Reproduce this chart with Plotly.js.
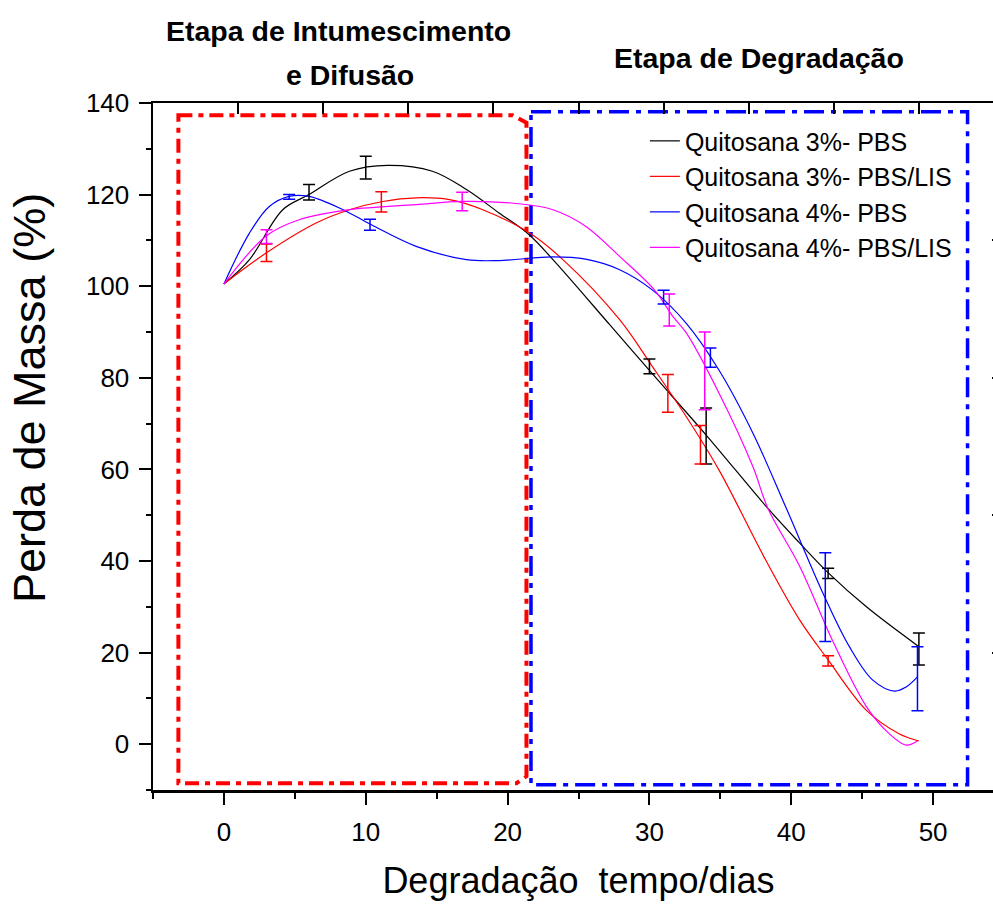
<!DOCTYPE html>
<html>
<head>
<meta charset="utf-8">
<script src="https://cdn.plot.ly/plotly-3.0.1.min.js"></script>
<style>
html, body { margin: 0; padding: 0; overflow: hidden; background: #fff; }
#chart { width: 1010px; height: 904px; }
</style>
</head>
<body>
<div id="chart"></div>
<script>
// ---- series names & colours ----
const seriesNames = ['Quitosana 3%- PBS', 'Quitosana 3%- PBS/LIS', 'Quitosana 4%- PBS', 'Quitosana 4%- PBS/LIS'];
const seriesColors = ['#000000', '#ff0000', '#0000ff', '#ff00ff'];

// ---- fitted curves ----
const curveX_3PBS = [0, 1.8, 4.15, 6, 8.85, 11.55, 14.7, 17.1, 19.4, 21.5, 23.2, 27.2, 30, 34, 38.35, 40.6, 42.65, 45.3, 49];
const curveY_3PBS = [100.5, 105.8, 116.7, 120, 125.1, 126.4, 125.1, 121.1, 116, 111.3, 105.8, 91.6, 81.6, 67.5, 51.5, 43.9, 37.3, 30.0, 21.3];

const curveX_3LIS = [0, 3, 6.5, 8.85, 11.2, 13.55, 15.9, 18.25, 21.5, 23.9, 27.9, 30.2, 32.6, 34.9, 38.2, 40.6, 42.6, 45.3, 47.6, 49];
const curveY_3LIS = [100.5, 107.3, 113.8, 116.7, 118.5, 119.3, 118.9, 116.7, 111.7, 105.8, 92.7, 82.5, 71.5, 59.9, 40.2, 27.1, 18.4, 7.4, 2.3, 0.7];

const curveX_4PBS = [0, 1.8, 3.2, 4.6, 6, 8.4, 10.4, 13.55, 17.1, 19.4, 23.2, 25.5, 27.9, 30.2, 32.6, 34.9, 37.3, 39.65, 42.35, 44.1, 45.75, 47.3, 48.1, 48.9];
const curveY_4PBS = [100.5, 111.6, 117.4, 119.6, 119.6, 116.7, 113.4, 108.7, 105.8, 105.6, 106.4, 105.9, 103.6, 99.2, 91.9, 81.7, 67.9, 51.5, 32.2, 21.3, 14.0, 11.6, 12.5, 14.7];

const curveX_4LIS = [0, 3, 5.3, 8.85, 13.55, 16.8, 20.8, 23.2, 25.5, 27.9, 30.35, 31.65, 32.6, 34.9, 37.3, 38.35, 40.6, 42.9, 45.3, 46.9, 48.1, 48.9];
const curveY_4LIS = [100.5, 111, 114.5, 116.7, 117.8, 118.5, 118, 116.7, 113.1, 106.5, 99.2, 93.4, 89.8, 76.7, 60.6, 51.5, 38.8, 22.7, 8.2, 2.3, -0.2, 0.7];

// ---- measured points with error bars ----
const ptX_3PBS = [6, 10, 30, 34, 42.6, 49];
const ptY_3PBS = [120.5, 125.9, 82.5, 67.3, 37.3, 20.8];
const ptE_3PBS = [1.7, 2.5, 1.6, 6.1, 1.1, 3.5];

const ptX_3LIS = [3, 11.1, 31.3, 33.6, 42.6];
const ptY_3LIS = [107.3, 118.4, 76.6, 65.4, 18.2];
const ptE_3LIS = [1.9, 2.2, 4.1, 4.2, 1.1];

const ptX_4PBS = [4.6, 10.3, 31.0, 34.3, 42.4, 48.9];
const ptY_4PBS = [119.5, 113.4, 97.6, 84.4, 32.1, 14.3];
const ptE_4PBS = [0.5, 1.2, 1.5, 2.1, 9.7, 7.0];

const ptX_4LIS = [3, 16.8, 31.4, 33.9];
const ptY_4LIS = [110.8, 118.5, 94.8, 81.5];
const ptE_4LIS = [1.5, 2.0, 3.5, 8.5];

// ---- text ----
const xTitle = 'Degradação\u00a0 tempo/dias';
const yTitle = 'Perda de Massa (%)';
const stageA1 = 'Etapa de Intumescimento';
const stageA2 = 'e Difusão';
const stageB = 'Etapa de Degradação';

const FONT = 'Liberation Sans, Arial, Helvetica, sans-serif';

const curves = [
  [curveX_3PBS, curveY_3PBS],
  [curveX_3LIS, curveY_3LIS],
  [curveX_4PBS, curveY_4PBS],
  [curveX_4LIS, curveY_4LIS]
];
const points = [
  [ptX_3PBS, ptY_3PBS, ptE_3PBS],
  [ptX_3LIS, ptY_3LIS, ptE_3LIS],
  [ptX_4PBS, ptY_4PBS, ptE_4PBS],
  [ptX_4LIS, ptY_4LIS, ptE_4LIS]
];

const traces = [];
curves.forEach((c, i) => {
  traces.push({
    x: c[0], y: c[1], type: 'scatter', mode: 'lines', name: seriesNames[i],
    line: {color: seriesColors[i], width: 1.2, shape: 'spline', smoothing: 1},
    hoverinfo: 'skip'
  });
});
points.forEach((p, i) => {
  traces.push({
    x: p[0], y: p[1], type: 'scatter', mode: 'markers', showlegend: false,
    marker: {size: 1, color: 'rgba(0,0,0,0)'},
    error_y: {type: 'data', array: p[2], visible: true, color: seriesColors[i], thickness: 1.5, width: 6},
    hoverinfo: 'skip'
  });
});
// carrier for the mirrored top / right axes
traces.push({x: [], y: [], xaxis: 'x2', yaxis: 'y2', type: 'scatter', mode: 'lines', showlegend: false, hoverinfo: 'skip'});

// stage boxes (in data units)
const redBox = 'M -3.21,137.3 L 20.35,137.3 L 21.33,135.7 L 21.33,-7.0 L 20.63,-8.5 L -3.21,-8.5 Z';
const blueBox = 'M 21.65,138.1 L 52.43,138.1 L 52.43,-8.85 L 21.65,-8.85 Z';

const axisCommon = {
  showline: true, linecolor: 'black', linewidth: 2.5,
  showgrid: false, zeroline: false,
  tickcolor: 'black', tickwidth: 2
};

const layout = {
  width: 1010, height: 904,
  margin: {l: 153, r: 6, t: 103, b: 114},
  paper_bgcolor: 'white', plot_bgcolor: 'white',
  font: {family: FONT, color: 'black'},
  showlegend: true,
  legend: {
    x: 0.578, y: 0.978, xanchor: 'left', yanchor: 'top',
    font: {family: FONT, size: 25, color: 'black'},
    bgcolor: 'rgba(0,0,0,0)', borderwidth: 0, tracegroupgap: 0
  },
  xaxis: Object.assign({}, axisCommon, {
    range: [-5, 55], tick0: 0, dtick: 10, ticks: 'outside', ticklen: 12,
    tickfont: {family: FONT, size: 26}, ticklabelstandoff: 5,
    minor: {tick0: 0, dtick: 5, ticks: 'outside', ticklen: 6, tickwidth: 2, tickcolor: 'black', showgrid: false},
    title: {text: xTitle, font: {family: FONT, size: 36}, standoff: 22}
  }),
  yaxis: Object.assign({}, axisCommon, {
    range: [-10, 140], tick0: 0, dtick: 20, ticks: 'outside', ticklen: 12,
    tickfont: {family: FONT, size: 26}, ticklabelstandoff: 4,
    minor: {tick0: 0, dtick: 10, ticks: 'outside', ticklen: 5, tickwidth: 2, tickcolor: 'black', showgrid: false}
  }),
  xaxis2: Object.assign({}, axisCommon, {
    overlaying: 'x', side: 'top', anchor: 'y', range: [-5, 55], tick0: -5, dtick: 6,
    ticks: 'inside', ticklen: 11, showticklabels: false
  }),
  yaxis2: Object.assign({}, axisCommon, {
    overlaying: 'y', side: 'right', anchor: 'x', range: [-10, 140], tick0: -10, dtick: 30,
    ticks: 'inside', ticklen: 12, showticklabels: false
  }),
  shapes: [
    {type: 'path', xref: 'x', yref: 'y', path: redBox, layer: 'below',
     line: {color: '#ff0000', width: 4, dash: '14px,6px,5px,6px'}},
    {type: 'path', xref: 'x', yref: 'y', path: blueBox, layer: 'below',
     line: {color: '#0000ff', width: 3.5, dash: '20px,7px,5px,7px'}}
  ],
  annotations: [
    {text: yTitle, xref: 'paper', yref: 'paper', x: -0.1445, y: 0.5706, xanchor: 'center', yanchor: 'middle',
     textangle: -90, showarrow: false, font: {family: FONT, size: 45}},
    {text: stageA1, xref: 'paper', yref: 'paper', x: 0.218, y: 1.1048, xanchor: 'center', yanchor: 'middle',
     showarrow: false, font: {family: FONT, size: 28.5, weight: 'bold'}},
    {text: stageA2, xref: 'paper', yref: 'paper', x: 0.2315, y: 1.0408, xanchor: 'center', yanchor: 'middle',
     showarrow: false, font: {family: FONT, size: 28.5, weight: 'bold'}},
    {text: stageB, xref: 'paper', yref: 'paper', x: 0.712, y: 1.066, xanchor: 'center', yanchor: 'middle',
     showarrow: false, font: {family: FONT, size: 28.5, weight: 'bold'}}
  ]
};

Plotly.newPlot('chart', traces, layout, {staticPlot: true, displayModeBar: false});
</script>
</body>
</html>
